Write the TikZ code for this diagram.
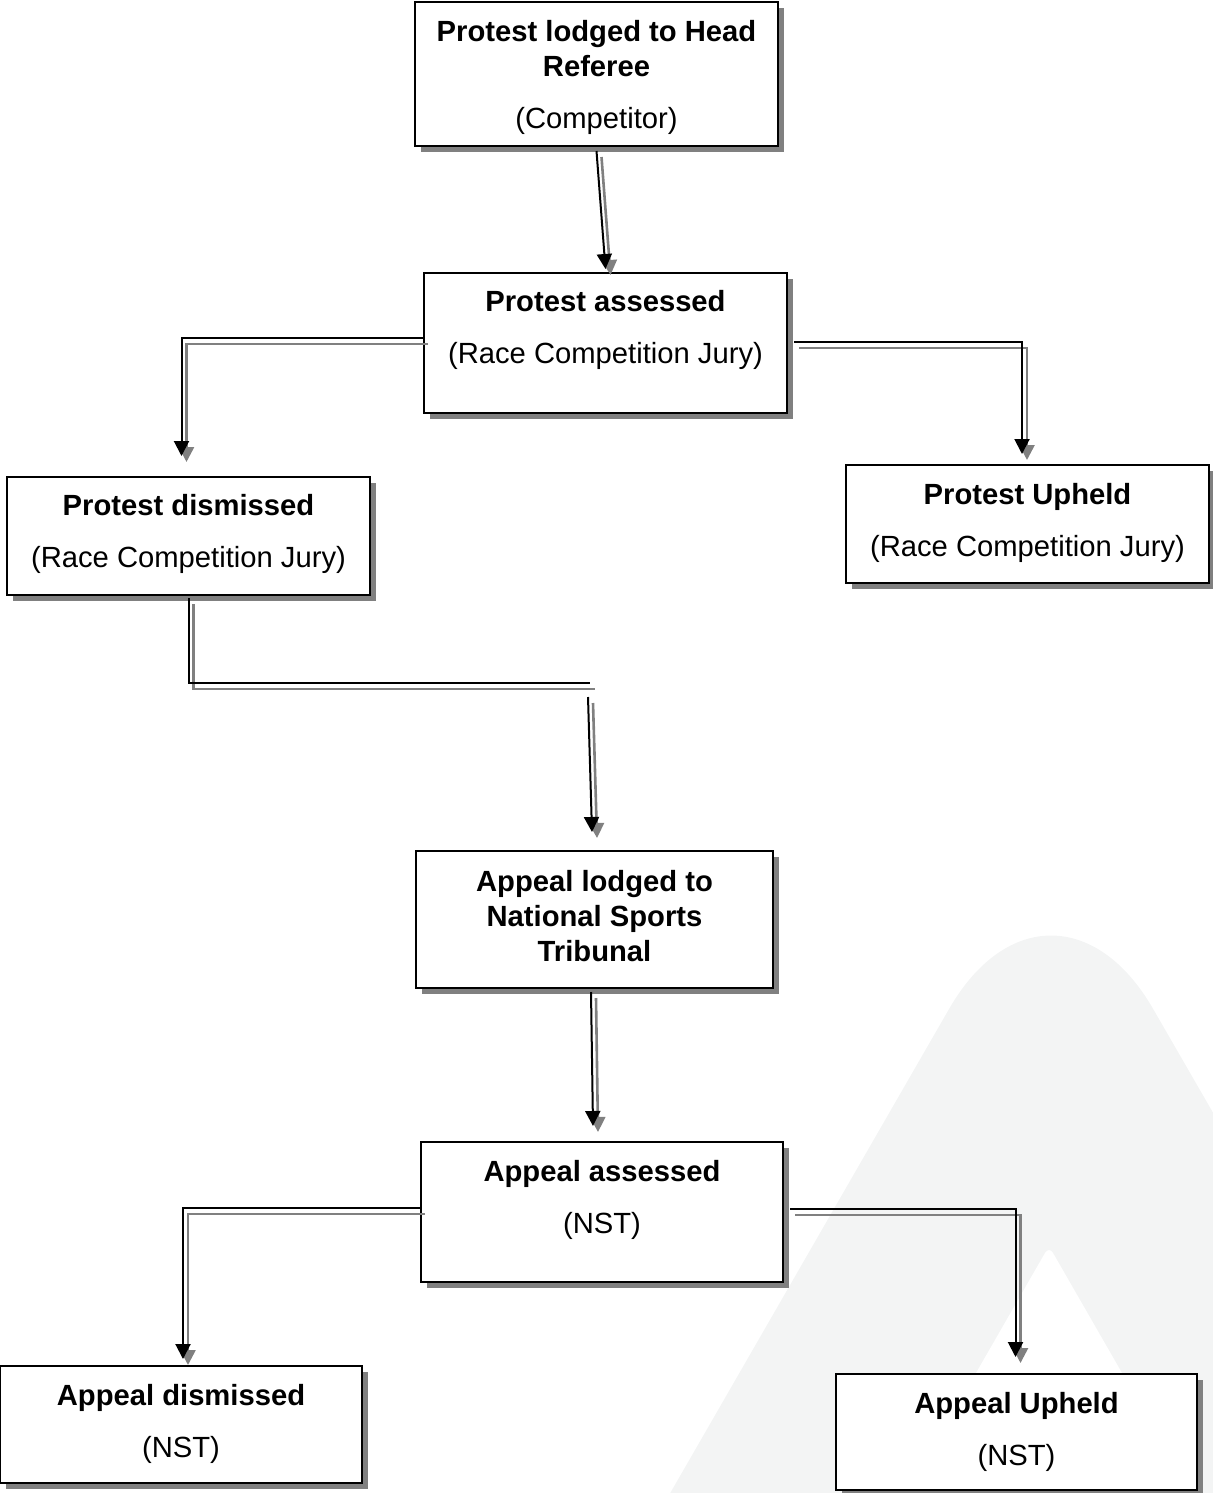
\documentclass[tikz,border=0pt]{standalone}
\usepackage{fontspec}
\setmainfont{Liberation Sans}
\usetikzlibrary{arrows.meta,shadows}
\definecolor{markgray}{HTML}{F3F4F4}
\newcommand{\padbelow}[1]{\rule[-\dimexpr#1+3pt\relax]{0pt}{\dimexpr#1+3pt\relax}}
\newcommand{\padabove}[1]{\rule{0pt}{\dimexpr#1+10.5pt\relax}}
\tikzset{
  stage/.style={draw, line width=1pt, fill=white, align=center, minimum width=181.5pt, inner sep=3pt,
    font=\fontsize{14.6pt}{17.5pt}\selectfont,
    drop shadow={shadow xshift=3pt, shadow yshift=-3pt, fill=black!50, opacity=1}},
  wire/.style={line width=1pt, preaction={draw=black!50, line width=1.3pt, transform canvas={xshift=2.5pt, yshift=-3pt}}},
  link/.style={wire, -{Triangle[length=7.5pt, width=7.5pt]}}
}

\begin{document}
\begin{tikzpicture}[x=0.5pt, y=-0.5pt]
\useasboundingbox (0,0) rectangle (1213,1493);
% watermark in the background
\begin{scope}
  \clip (0,0) rectangle (1213,1493);
  \fill[markgray] (551,1700) [rounded corners=102pt] -- (1051,832) [sharp corners] -- (1552,1700) -- cycle;
  \fill[white] (788,1700) [rounded corners=4pt] -- (1049,1246) [sharp corners] -- (1310,1700) -- cycle;
\end{scope}
% stages of the protest
\node[stage, minimum height=72pt] (lodge) at (596.5,74) {\padabove{4pt}\textbf{Protest lodged to Head}\\\textbf{Referee}\\[8.5pt](Competitor)};
\node[stage, minimum height=70pt] (assess) at (605.5,343) {\textbf{Protest assessed}\\[8.5pt](Race Competition Jury)\padbelow{13pt}};
\node[stage, minimum height=59pt] (dismiss) at (188.5,536) {\textbf{Protest dismissed}\\[8.5pt](Race Competition Jury)\padbelow{2pt}};
\node[stage, minimum height=59pt] (uphold) at (1027.5,524) {\textbf{Protest Upheld}\\[8.5pt](Race Competition Jury)\padbelow{1pt}};
% stages of the appeal
\node[stage, minimum width=178.5pt, minimum height=68.5pt] (appeal) at (594.5,919.5) {\textbf{Appeal lodged to}\\\textbf{National Sports}\\\textbf{Tribunal}\padbelow{1pt}};
\node[stage, minimum width=181pt, minimum height=70pt] (review) at (602,1212) {\textbf{Appeal assessed}\\[8.5pt](NST)\padbelow{12.5pt}};
\node[stage, minimum width=181pt, minimum height=58.5pt] (reject) at (181,1424.5) {\textbf{Appeal dismissed}\\[8.5pt](NST)\padbelow{1pt}};
\node[stage, minimum width=180.5pt, minimum height=58pt] (grant) at (1016.5,1432) {\textbf{Appeal Upheld}\\[8.5pt](NST)\padbelow{0.5pt}};
% connectors
\draw[link] ([yshift=-2pt]lodge.south) -- ([yshift=1.5pt]assess.north);
\draw[link] ([yshift=2.5pt]assess.west) -| ([xshift=-3.5pt,yshift=10pt]dismiss.north);
\draw[link] ([xshift=3pt,yshift=0.5pt]assess.east) -| ([xshift=-2.75pt,yshift=5pt]uphold.north);
\coordinate (turn) at (590,683);
\draw[wire] ([yshift=-1pt]dismiss.south) |- (turn);
\draw[link] ([xshift=-1pt,yshift=-7pt]turn) -- ([xshift=-1.25pt,yshift=9pt]appeal.north);
\draw[link] ([xshift=-1.75pt,yshift=-1.5pt]appeal.south) -- ([xshift=-4.5pt,yshift=7.5pt]review.north);
\draw[link] ([yshift=2pt]review.west) -| ([xshift=1pt,yshift=3pt]reject.north);
\draw[link] ([xshift=3pt,yshift=1.5pt]review.east) -| ([xshift=-0.5pt,yshift=8pt]grant.north);
\end{tikzpicture}
\end{document}
